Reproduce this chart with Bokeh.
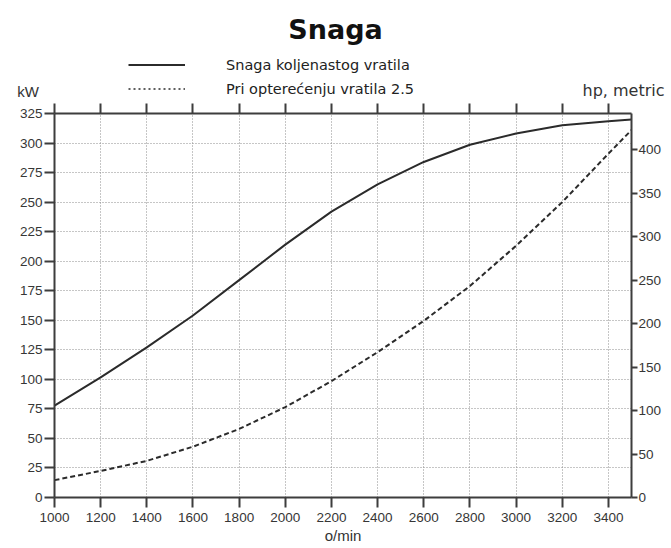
from bokeh.plotting import figure
from bokeh.layouts import column
from bokeh.models import (Range1d, LinearAxis, FixedTicker, Legend, LegendItem)
from bokeh.core.properties import value
from bokeh.embed import file_html
from bokeh.resources import INLINE

# ---- data ----
rpm = [1000, 1200, 1400, 1600, 1800, 2000, 2200, 2400, 2600, 2800, 3000, 3200, 3400, 3500]
power_kw = [77.7, 101.7, 127, 154, 184, 214, 242, 265, 284, 298.5, 308, 315, 318.5, 320]
load_kw = [14.7, 22.5, 31, 43, 58, 76.5, 98.5, 123, 149.5, 179, 213, 250, 291, 311]
x_ticks = [1000, 1200, 1400, 1600, 1800, 2000, 2200, 2400, 2600, 2800, 3000, 3200, 3400]
kw_ticks = [0, 25, 50, 75, 100, 125, 150, 175, 200, 225, 250, 275, 300, 325]
hp_ticks = [0, 50, 100, 150, 200, 250, 300, 350, 400]
KW_TO_HP = 1.35962

title_text = "Snaga"
legend_labels = ["Snaga koljenastog vratila", "Pri optere\u0107enju vratila 2.5"]
left_unit = "kW"
right_unit = "hp, metric"

W = 671
HEAD_H = 100
MAIN_H = 448

AX = "#3d3d3d"
LINE = "#2b2b2b"
TICK_FONT = "Liberation Sans"
NAN = float("nan")

# ---------------- header (title, legend, unit labels) ----------------
head = figure(width=W, height=HEAD_H, x_range=Range1d(0, W), y_range=Range1d(HEAD_H, 0),
              output_backend="svg", toolbar_location=None,
              min_border=0, min_border_left=0, min_border_right=0,
              min_border_top=0, min_border_bottom=0)
head.frame_align = False
head.axis.visible = False
head.grid.visible = False
head.outline_line_color = None
head.background_fill_color = "white"
head.border_fill_color = "white"

head.text(x=[335], y=[29], text=[title_text], text_font=value("DejaVu Sans"),
          text_font_style="bold", text_font_size="27px", text_color="#111111",
          text_align="center", text_baseline="middle")
head.text(x=[27.5], y=[91], text=[left_unit], text_font=value(TICK_FONT),
          text_font_size="15px", text_color="#333333",
          text_align="center", text_baseline="middle")
head.text(x=[623], y=[90], text=[right_unit], text_font=value("DejaVu Sans"),
          text_font_size="16px", text_color="#333333",
          text_align="center", text_baseline="middle")

# legend-only renderers (nothing visible in the header frame)
r1 = head.line([NAN], [NAN], line_color=LINE, line_width=2)
r2 = head.line([NAN], [NAN], line_color=LINE, line_width=1.5, line_dash="2 3")
legend = Legend(items=[LegendItem(label=legend_labels[0], renderers=[r1]),
                       LegendItem(label=legend_labels[1], renderers=[r2])],
                location=(128, 3), orientation="vertical",
                glyph_width=57, glyph_height=17, label_height=17, spacing=7,
                label_standoff=41, padding=0, margin=0,
                border_line_color=None, background_fill_alpha=0,
                label_text_font="DejaVu Sans", label_text_font_size="14.5px",
                label_text_color="#222222")
head.add_layout(legend)

# ---------------- main chart ----------------
p = figure(width=W, height=MAIN_H, x_range=Range1d(1000, 3500), y_range=Range1d(0, 325),
           output_backend="svg", toolbar_location=None,
           min_border_left=54, min_border_right=40, min_border_top=13, min_border_bottom=51)
p.frame_align = False
p.outline_line_color = None
p.background_fill_color = "white"
p.border_fill_color = "white"
p.extra_y_ranges = {"hp": Range1d(0, 325 * KW_TO_HP)}

def style_axis(ax, ticks):
    ax.ticker = FixedTicker(ticks=ticks)
    ax.axis_line_color = AX
    ax.axis_line_width = 2
    ax.major_tick_line_color = AX
    ax.major_tick_line_width = 2
    ax.major_tick_in = 0
    ax.major_tick_out = 10
    ax.minor_tick_line_color = None
    ax.major_label_text_font = TICK_FONT
    ax.major_label_text_font_size = "13.5px"
    ax.major_label_text_color = "#363636"

xa = p.xaxis[0]
style_axis(xa, x_ticks)
xa.major_label_standoff = 5
xa.axis_label = "o/min"
xa.axis_label_text_font = TICK_FONT
xa.axis_label_text_font_size = "15px"
xa.axis_label_text_font_style = "normal"
xa.axis_label_text_color = "#333333"
xa.axis_label_standoff = 2

ya = p.yaxis[0]
style_axis(ya, kw_ticks)
ya.major_label_standoff = 2

# top axis: ticks only (drawn as minor ticks, so no labels)
top = LinearAxis(ticker=FixedTicker(ticks=[], minor_ticks=x_ticks))
top.axis_line_color = AX
top.axis_line_width = 2
top.major_tick_line_color = None
top.minor_tick_line_color = AX
top.minor_tick_line_width = 2
top.minor_tick_in = 0
top.minor_tick_out = 10
top.major_label_standoff = 0
p.add_layout(top, "above")

right = LinearAxis(y_range_name="hp")
style_axis(right, hp_ticks)
right.major_tick_out = 6
right.major_label_standoff = 1
p.add_layout(right, "right")

for g, t in ((p.xgrid[0], x_ticks), (p.ygrid[0], kw_ticks)):
    g.ticker = FixedTicker(ticks=t)
    g.grid_line_color = "#8c8c8c"
    g.grid_line_dash = "1 2"
    g.grid_line_width = 1

p.line(rpm, power_kw, line_color=LINE, line_width=2)
p.line(rpm, load_kw, line_color=LINE, line_width=2, line_dash="5 3")

layout = column(head, p, spacing=0)
open("out.html", "w").write(file_html(layout, INLINE))
